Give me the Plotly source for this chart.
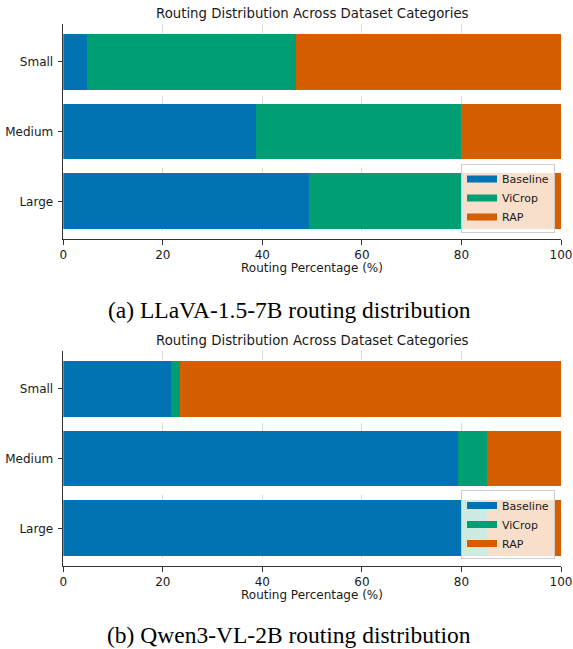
import plotly.graph_objects as go

# ---------------- data ----------------
categories = ["Small", "Medium", "Large"]
series_names = ["Baseline", "ViCrop", "RAP"]

llava_baseline = [4.7, 38.7, 49.4]
llava_vicrop = [42.0, 41.3, 31.2]
llava_rap = [53.3, 20.0, 19.4]

qwen_baseline = [21.6, 79.4, 80.0]
qwen_vicrop = [1.8, 5.8, 5.2]
qwen_rap = [76.6, 14.8, 14.8]

x_ticks = [0, 20, 40, 60, 80, 100]
chart_title = "Routing Distribution Across Dataset Categories"
x_label = "Routing Percentage (%)"
captions = ["(a) LLaVA-1.5-7B routing distribution", "(b) Qwen3-VL-2B routing distribution"]

# ---------------- style ----------------
colors = ["#0173B2", "#029E73", "#D55E00"]
W, H = 573, 649
sans = "DejaVu Sans"
serif = "Liberation Serif, Times New Roman, serif"
ink = "#1a1a1a"

x_dom = [63.3 / W, 561.0 / W]
panels = [
    dict(top=24, bottom=239, data=[llava_baseline, llava_vicrop, llava_rap],
         title_y=14, label_y=268, cap_y=310, legend_box=(555, 232.5)),
    dict(top=351, bottom=566, data=[qwen_baseline, qwen_vicrop, qwen_rap],
         title_y=340, label_y=595, cap_y=635, legend_box=(555, 559)),
]

fig = go.Figure()
annotations = []

for i, p in enumerate(panels):
    n = "" if i == 0 else str(i + 1)
    xa, ya = "x" + n, "y" + n
    leg = "legend" if i == 0 else "legend2"
    for name, vals, col in zip(series_names, p["data"], colors):
        fig.add_trace(go.Bar(
            y=categories, x=vals, orientation="h", name=name,
            marker=dict(color=col, line=dict(width=0)),
            xaxis=xa, yaxis=ya, showlegend=False, hoverinfo="x+y+name",
        ))
    for name, col in zip(series_names, colors):
        fig.add_trace(go.Scatter(
            x=[None], y=[None], mode="lines", name=name,
            line=dict(color=col, width=7),
            xaxis=xa, yaxis=ya, legend=leg, showlegend=True,
        ))

    y_dom = [1 - p["bottom"] / H, 1 - p["top"] / H]
    fig.update_layout(**{
        "xaxis" + n: dict(
            domain=x_dom, anchor=ya, range=[0, 100], tickvals=x_ticks,
            ticks="outside", ticklen=4.7, tickwidth=1, tickcolor="#333",
            showline=True, linecolor="#333", linewidth=1, mirror=False,
            showgrid=True, gridcolor="rgba(170,170,170,0.45)", griddash="dash", gridwidth=0.8,
            zeroline=False, tickfont=dict(family=sans, size=12, color=ink),
            fixedrange=True, automargin=False,
        ),
        "yaxis" + n: dict(
            domain=y_dom, anchor=xa, type="category",
            categoryorder="array", categoryarray=["Large", "Medium", "Small"],
            range=[-0.54, 2.54],
            ticks="outside", ticklen=4.7, tickwidth=1, tickcolor="#333",
            showline=True, linecolor="#333", linewidth=1, mirror=False,
            showgrid=False, zeroline=False,
            tickfont=dict(family=sans, size=12, color=ink),
            ticklabelstandoff=2, fixedrange=True, automargin=False,
        ),
    })

    cx = (x_dom[0] + x_dom[1]) / 2
    annotations.append(dict(text=chart_title, x=cx, y=1 - p["title_y"] / H, xref="paper", yref="paper",
                            xanchor="center", yanchor="middle", showarrow=False,
                            font=dict(family=sans, size=13.3, color=ink)))
    annotations.append(dict(text=x_label, x=cx, y=1 - p["label_y"] / H, xref="paper", yref="paper",
                            xanchor="center", yanchor="middle", showarrow=False,
                            font=dict(family=sans, size=12, color=ink)))
    annotations.append(dict(text=captions[i], x=289.5 / W, y=1 - p["cap_y"] / H, xref="paper", yref="paper",
                            xanchor="center", yanchor="middle", showarrow=False,
                            font=dict(family=serif, size=23.5, color="black")))

    lx, ly = p["legend_box"]
    fig.update_layout(**{
        leg: dict(
            x=lx / W, y=1 - ly / H, xanchor="right", yanchor="bottom",
            traceorder="normal",
            bgcolor="rgba(255,255,255,0.8)", bordercolor="#cccccc", borderwidth=1,
            font=dict(family=sans, size=11, color=ink),
            itemclick=False, itemdoubleclick=False,
        )
    })

fig.update_layout(
    width=W, height=H, autosize=False, margin=dict(l=0, r=0, t=0, b=0, autoexpand=False),
    barmode="stack", bargap=0.2,
    plot_bgcolor="white", paper_bgcolor="white",
    annotations=annotations,
)

fig.write_html(
    "out.html",
    config={"displayModeBar": False, "responsive": False},
    post_script="document.body.style.margin='0';document.body.style.overflow='hidden';",
)
